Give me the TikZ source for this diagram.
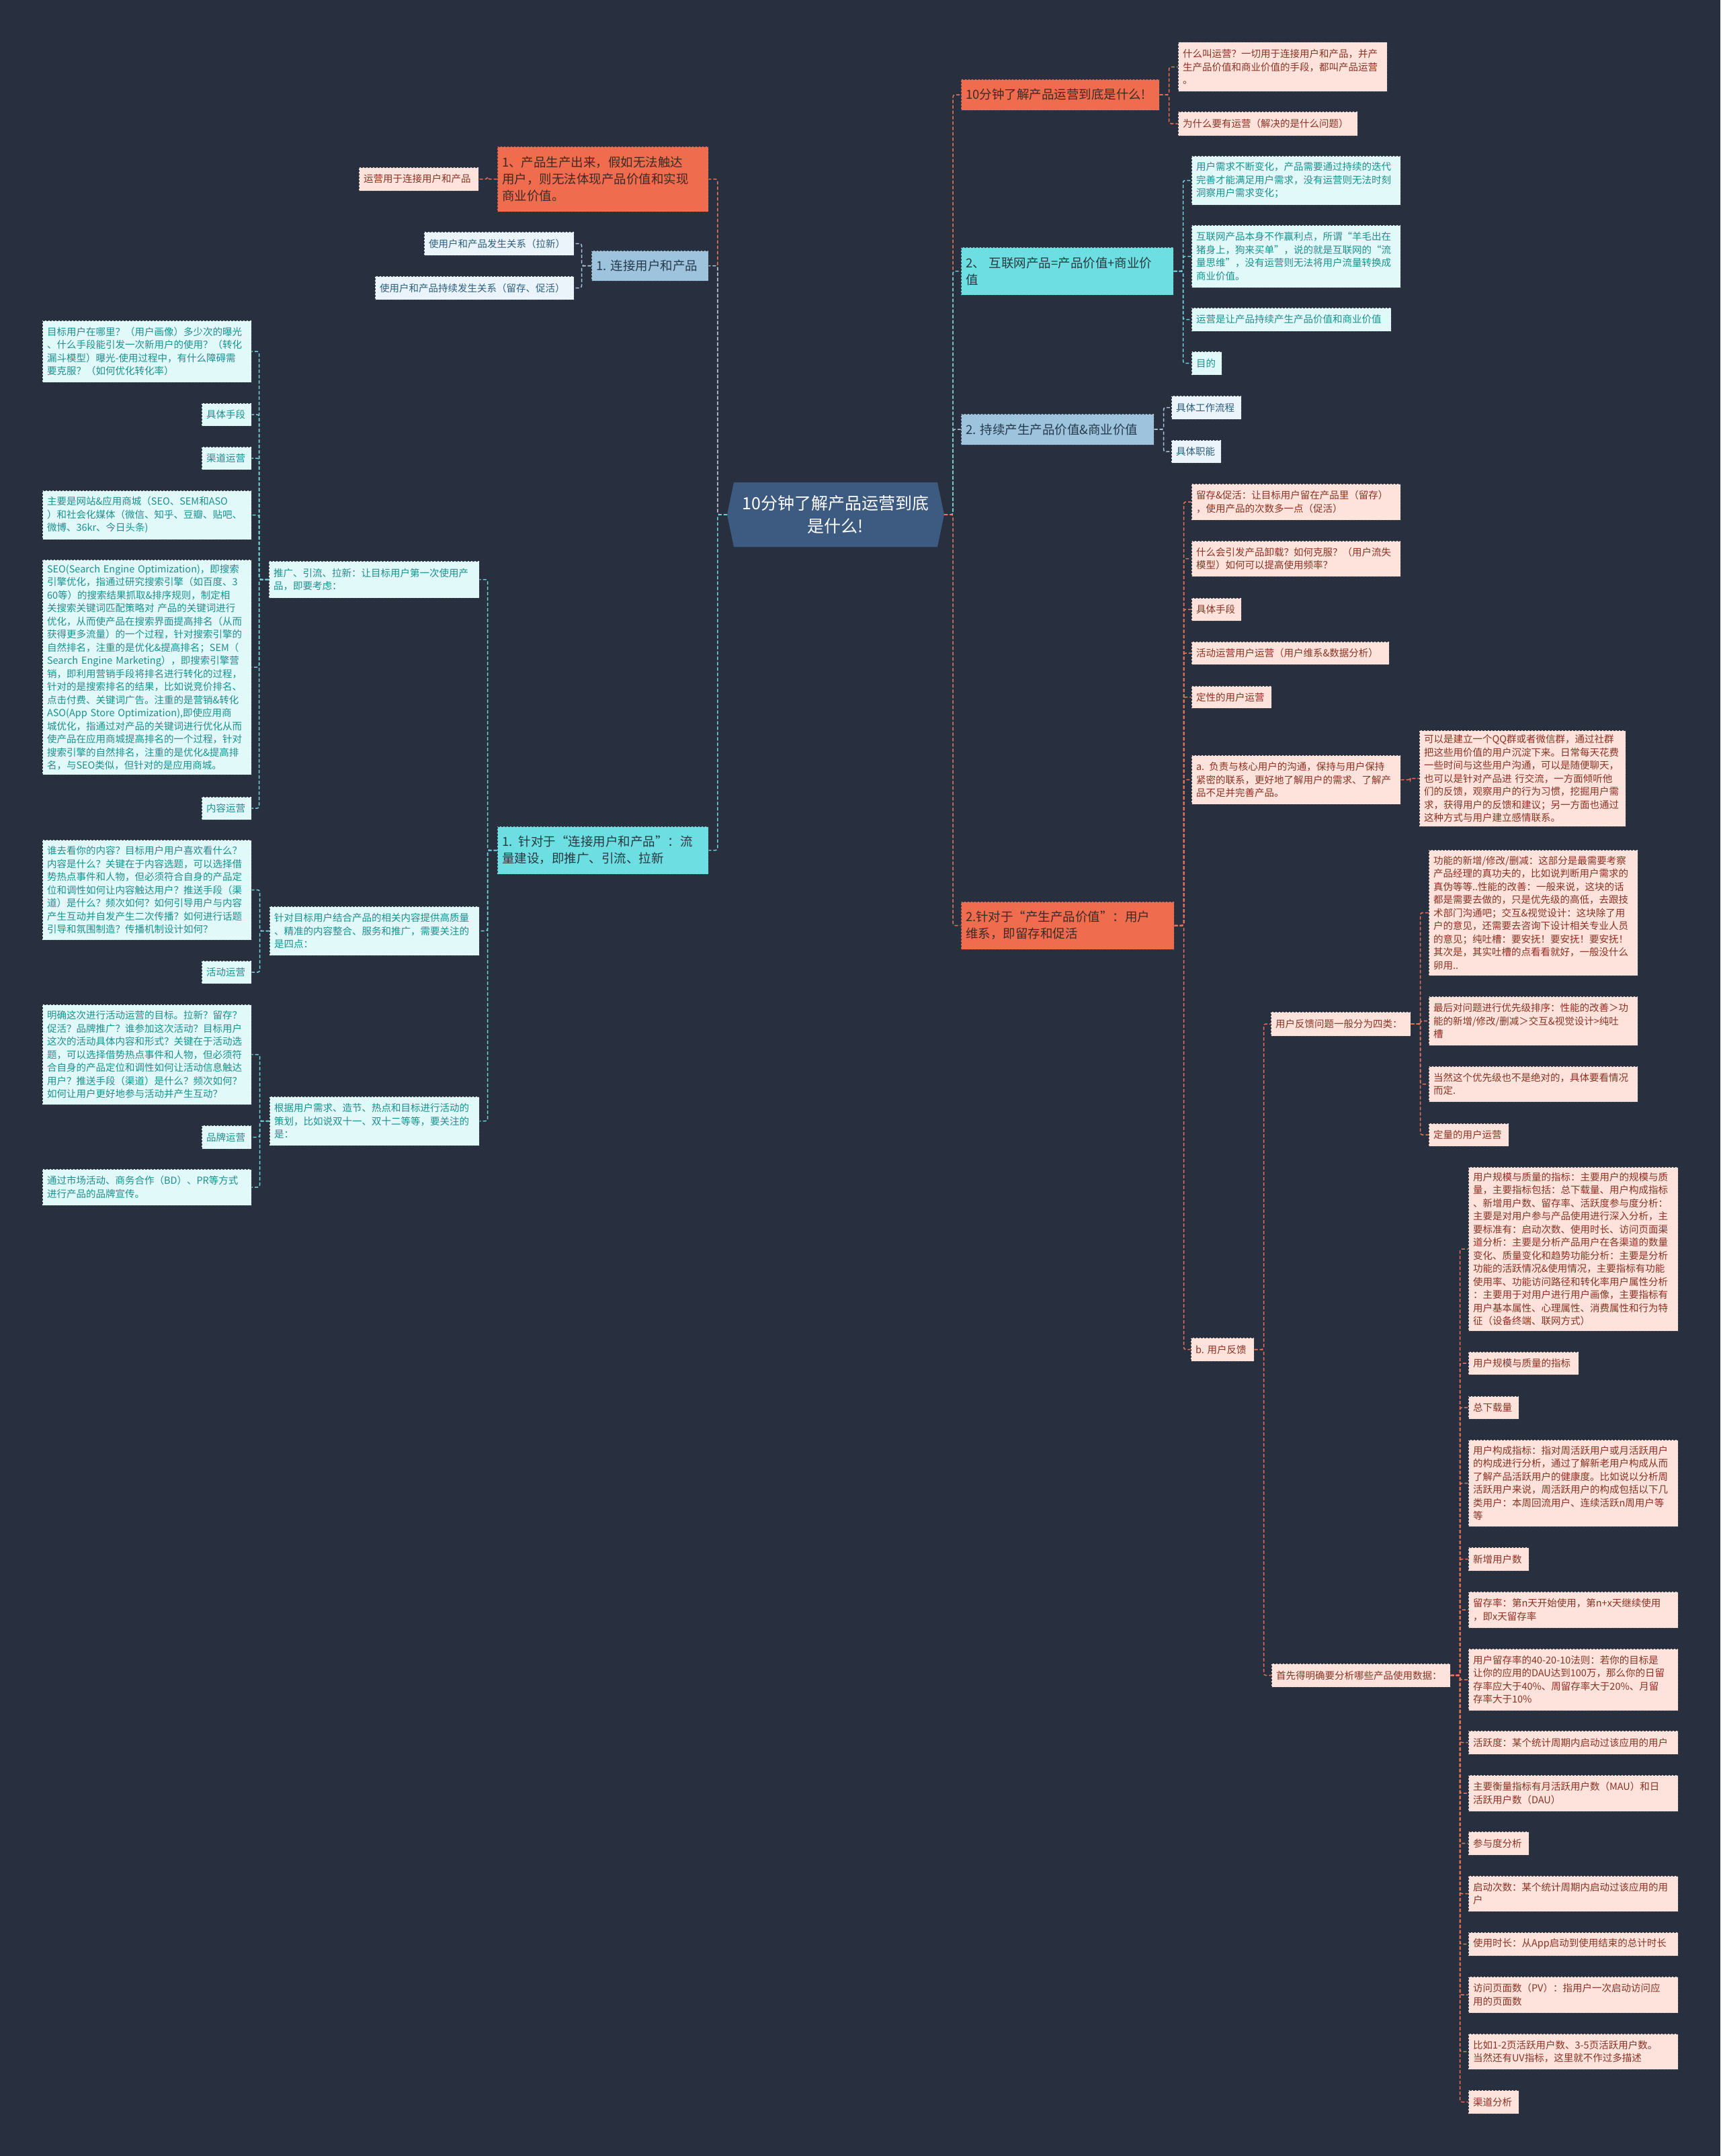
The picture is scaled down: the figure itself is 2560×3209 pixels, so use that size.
\documentclass[tikz,border=0pt]{standalone}
\usepackage{fontspec}
\setmainfont{Noto Sans CJK SC}
\definecolor{bg}{HTML}{282F3E}
\definecolor{orB}{HTML}{EF6C4F}
\definecolor{tlB}{HTML}{6DDFE3}
\definecolor{blB}{HTML}{9DC3DD}
\definecolor{ctrB}{HTML}{3D5A80}
\definecolor{pkL}{HTML}{FDE3DB}
\definecolor{cyL}{HTML}{E1F9F9}
\definecolor{buL}{HTML}{EBF4FA}
\definecolor{orT}{HTML}{3E2A25}
\definecolor{tlT}{HTML}{263A40}
\definecolor{blT}{HTML}{263A4D}
\definecolor{pkT}{HTML}{8A3324}
\definecolor{cyT}{HTML}{1D8F8F}
\definecolor{buT}{HTML}{2C5E7E}
\definecolor{lnO}{HTML}{E7735B}
\definecolor{lnT}{HTML}{6ED3DA}
\definecolor{lnB}{HTML}{A9C8DE}
\definecolor{bd}{HTML}{3A3F48}
\newcommand\leaffont{\fontsize{14.5}{19.5}\selectfont}
\newcommand\brfont{\fontsize{18.5}{25}\selectfont}
\newcommand\ctrfont{\fontsize{25}{33.5}\selectfont}
\newcommand\bx[7]{%
 \pgfmathsetmacro\bxw{#4-#2}\pgfmathsetmacro\bxh{#5-#3}%
 \pgfmathsetmacro\bxt{#4-#2-14}\pgfmathsetmacro\bxcx{(#2+#4)/2}\pgfmathsetmacro\bxcy{(#3+#5)/2}%
 \node[#6, minimum width=\bxw pt, minimum height=\bxh pt, text width=\bxt pt] (#1) at (\bxcx,\bxcy) {#7};}
\newcommand\cR[3]{\draw[#1] (#2.east) -- ++(14,0) |- (#3.west);}
\newcommand\cL[3]{\draw[#1] (#2.west) -- ++(-14,0) |- (#3.east);}
\tikzset{
 box/.style={rectangle, draw=bd, dash pattern=on 3pt off 2pt, line width=1pt, inner xsep=7pt, inner ysep=1pt, align=left},
 orangeB/.style={box, fill=orB, text=orT, font=\brfont},
 tealB/.style={box, fill=tlB, text=tlT, font=\brfont},
 blueB/.style={box, fill=blB, text=blT, font=\brfont},
 pinkL/.style={box, fill=pkL, text=pkT, font=\leaffont},
 cyanL/.style={box, fill=cyL, text=cyT, font=\leaffont},
 blueL/.style={box, fill=buL, text=buT, font=\leaffont},
 conn/.style={dash pattern=on 5pt off 3pt, line width=1.5pt, rounded corners=3pt},
 cO/.style={conn, draw=lnO},
 cT/.style={conn, draw=lnT},
 cB/.style={conn, draw=lnB}
}
\begin{document}
\begin{tikzpicture}[x=1pt,y=-1pt]
\fill[bg] (0,0) rectangle (2560,3209);
\useasboundingbox (0,0) rectangle (2560,3209);
% center
\fill[ctrB] (1082,766) -- (1092,718) -- (1395,718) -- (1405,766) -- (1395,814) -- (1092,814) -- cycle;
\node[minimum width=323pt, minimum height=96pt, inner sep=0pt, text=white, font=\ctrfont, align=center] (ctr) at (1243.5,766) {10分钟了解产品运营到底\\是什么!};
% ---------- right side
\bx{r1}{1430}{118}{1725}{164}{orangeB}{10分钟了解产品运营到底是什么!}
\bx{r1a}{1753}{63}{2064}{136}{pinkL}{什么叫运营？一切用于连接用户和产品，并产\\生产品价值和商业价值的手段，都叫产品运营\\。}
\bx{r1b}{1753}{166}{2020}{202}{pinkL}{为什么要有运营（解决的是什么问题）}
\bx{r2}{1430}{368}{1746}{439}{tealB}{2、 互联网产品=产品价值+商业价\\值}
\bx{r2a}{1773}{232}{2084}{305}{cyanL}{用户需求不断变化，产品需要通过持续的迭代\\完善才能满足用户需求，没有运营则无法时刻\\洞察用户需求变化；}
\bx{r2b}{1773}{335}{2084}{428}{cyanL}{互联网产品本身不作赢利点，所谓“羊毛出在\\猪身上，狗来买单”，说的就是互联网的“流\\量思维”，没有运营则无法将用户流量转换成\\商业价值。}
\bx{r2c}{1773}{458}{2070}{493}{cyanL}{运营是让产品持续产生产品价值和商业价值}
\bx{r2d}{1773}{523}{1818}{558}{cyanL}{目的}
\bx{r3}{1430}{616}{1717}{662}{blueB}{2.~持续产生产品价值\&商业价值}
\bx{r3a}{1743}{589}{1847}{624}{blueL}{具体工作流程}
\bx{r3b}{1743}{655}{1817}{689}{blueL}{具体职能}
\bx{r4}{1430}{1342}{1747}{1413}{orangeB}{2.针对于“产生产品价值”：用户\\维系，即留存和促活}
\bx{r4a}{1773}{720}{2084}{774}{pinkL}{留存\&促活：让目标用户留在产品里（留存）\\，使用产品的次数多一点（促活）}
\bx{r4b}{1773}{805}{2084}{858}{pinkL}{什么会引发产品卸载？如何克服？（用户流失\\模型）如何可以提高使用频率？}
\bx{r4c}{1773}{890}{1847}{924}{pinkL}{具体手段}
\bx{r4d}{1773}{955}{2067}{989}{pinkL}{活动运营用户运营（用户维系\&数据分析）}
\bx{r4e}{1773}{1021}{1892}{1054}{pinkL}{定性的用户运营}
\bx{r4f}{1773}{1124}{2084}{1197}{pinkL}{a. 负责与核心用户的沟通，保持与用户保持\\紧密的联系，更好地了解用户的需求、了解产\\品不足并完善产品。}
\bx{r4f1}{2112}{1087}{2419}{1230}{pinkL}{可以是建立一个QQ群或者微信群，通过社群\\把这些用价值的用户沉淀下来。日常每天花费\\一些时间与这些用户沟通，可以是随便聊天，\\也可以是针对产品进 行交流，一方面倾听他\\们的反馈，观察用户的行为习惯，挖掘用户需\\求，获得用户的反馈和建议；另一方面也通过\\这种方式与用户建立感情联系。}
\bx{r4g}{1772}{1991}{1866}{2026}{pinkL}{b.~用户反馈}
\bx{g1}{1891}{1506}{2099}{1542}{pinkL}{用户反馈问题一般分为四类：}
\bx{g1a}{2126}{1265}{2437}{1452}{pinkL}{功能的新增/修改/删减：这部分是最需要考察\\产品经理的真功夫的，比如说判断用户需求的\\真伪等等..性能的改善：一般来说，这块的话\\都是需要去做的，只是优先级的高低，去跟技\\术部门沟通吧；交互\&视觉设计：这块除了用\\户的意见，还需要去咨询下设计相关专业人员\\的意见；纯吐槽：要安抚！要安抚！要安抚！\\其次是，其实吐槽的点看看就好，一般没什么\\卵用..}
\bx{g1b}{2126}{1483}{2437}{1556}{pinkL}{最后对问题进行优先级排序：性能的改善＞功\\能的新增/修改/删减＞交互\&视觉设计>纯吐\\槽}
\bx{g1c}{2126}{1587}{2437}{1640}{pinkL}{当然这个优先级也不是绝对的，具体要看情况\\而定.}
\bx{g1d}{2126}{1672}{2245}{1706}{pinkL}{定量的用户运营}
\bx{g2}{1892}{2476}{2158}{2511}{pinkL}{首先得明确要分析哪些产品使用数据：}
\bx{g2a}{2185}{1737}{2497}{1981}{pinkL}{用户规模与质量的指标：主要用户的规模与质\\量，主要指标包括：总下载量、用户构成指标\\、新增用户数、留存率、活跃度参与度分析：\\主要是对用户参与产品使用进行深入分析，主\\要标准有：启动次数、使用时长、访问页面渠\\道分析：主要是分析产品用户在各渠道的数量\\变化、质量变化和趋势功能分析：主要是分析\\功能的活跃情况\&使用情况，主要指标有功能\\使用率、功能访问路径和转化率用户属性分析\\：主要用于对用户进行用户画像，主要指标有\\用户基本属性、心理属性、消费属性和行为特\\征（设备终端、联网方式）}
\bx{g2b}{2185}{2012}{2349}{2046}{pinkL}{用户规模与质量的指标}
\bx{g2c}{2185}{2078}{2260}{2112}{pinkL}{总下载量}
\bx{g2d}{2185}{2143}{2497}{2272}{pinkL}{用户构成指标：指对周活跃用户或月活跃用户\\的构成进行分析，通过了解新老用户构成从而\\了解产品活跃用户的健康度。比如说以分析周\\活跃用户来说，周活跃用户的构成包括以下几\\类用户：本周回流用户、连续活跃n周用户等\\等}
\bx{g2e}{2185}{2303}{2275}{2338}{pinkL}{新增用户数}
\bx{g2f}{2185}{2369}{2497}{2423}{pinkL}{留存率：第n天开始使用，第n+x天继续使用\\，即x天留存率}
\bx{g2g}{2185}{2454}{2497}{2546}{pinkL}{用户留存率的40-20-10法则：若你的目标是\\让你的应用的DAU达到100万，那么你的日留\\存率应大于40\%、周留存率大于20\%、月留\\存率大于10\%}
\bx{g2h}{2185}{2576}{2497}{2611}{pinkL}{活跃度：某个统计周期内启动过该应用的用户}
\bx{g2i}{2185}{2642}{2497}{2696}{pinkL}{主要衡量指标有月活跃用户数（MAU）和日\\活跃用户数（DAU）}
\bx{g2j}{2185}{2726}{2275}{2761}{pinkL}{参与度分析}
\bx{g2k}{2185}{2792}{2497}{2845}{pinkL}{启动次数：某个统计周期内启动过该应用的用\\户}
\bx{g2l}{2185}{2876}{2497}{2911}{pinkL}{使用时长：从App启动到使用结束的总计时长}
\bx{g2m}{2185}{2942}{2497}{2996}{pinkL}{访问页面数（PV）：指用户一次启动访问应\\用的页面数}
\bx{g2n}{2185}{3027}{2497}{3080}{pinkL}{比如1-2页活跃用户数、3-5页活跃用户数。\\当然还有UV指标，这里就不作过多描述}
\bx{g2o}{2185}{3111}{2260}{3146}{pinkL}{渠道分析}
% ---------- left side
\bx{l1}{740}{218}{1054}{315}{orangeB}{1、产品生产出来，假如无法触达\\用户，则无法体现产品价值和实现\\商业价值。}
\bx{l1a}{534}{249}{712}{284}{pinkL}{运营用于连接用户和产品}
\bx{l2}{880}{373}{1054}{418}{blueB}{1.~连接用户和产品}
\bx{l2a}{631}{345}{854}{380}{blueL}{使用户和产品发生关系（拉新）}
\bx{l2b}{558}{411}{854}{446}{blueL}{使用户和产品持续发生关系（留存、促活）}
\bx{l3}{740}{1230}{1054}{1301}{tealB}{1. 针对于“连接用户和产品”：流\\量建设，即推广、引流、拉新}
\bx{p1}{400}{835}{713}{890}{cyanL}{推广、引流、拉新：让目标用户第一次使用产\\品，即要考虑：}
\bx{p1a}{63}{477}{374}{569}{cyanL}{目标用户在哪里？（用户画像）多少次的曝光\\、什么手段能引发一次新用户的使用？（转化\\漏斗模型）曝光-使用过程中，有什么障碍需\\要克服？（如何优化转化率）}
\bx{p1b}{300}{600}{374}{634}{cyanL}{具体手段}
\bx{p1c}{300}{665}{374}{699}{cyanL}{渠道运营}
\bx{p1d}{63}{730}{374}{803}{cyanL}{主要是网站\&应用商城（SEO、SEM和ASO\\）和社会化媒体（微信、知乎、豆瓣、贴吧、\\微博、36kr、今日头条)}
\bx{p1e}{63}{833}{374}{1153}{cyanL}{SEO(Search Engine Optimization)，即搜索\\引擎优化，指通过研究搜索引擎（如百度、3\\60等）的搜索结果抓取\&排序规则，制定相\\关搜索关键词匹配策略对 产品的关键词进行\\优化，从而使产品在搜索界面提高排名（从而\\获得更多流量）的一个过程，针对搜索引擎的\\自然排名，注重的是优化\&提高排名；SEM（\\Search Engine Marketing），即搜索引擎营\\销，即利用营销手段将排名进行转化的过程，\\针对的是搜索排名的结果，比如说竞价排名、\\点击付费、关键词广告。注重的是营销\&转化\\ASO(App Store Optimization),即使应用商\\城优化，指通过对产品的关键词进行优化从而\\使产品在应用商城提高排名的一个过程，针对\\搜索引擎的自然排名，注重的是优化\&提高排\\名，与SEO类似，但针对的是应用商城。}
\bx{p1f}{300}{1186}{374}{1220}{cyanL}{内容运营}
\bx{p2}{401}{1349}{713}{1422}{cyanL}{针对目标用户结合产品的相关内容提供高质量\\、精准的内容整合、服务和推广，需要关注的\\是四点：}
\bx{p2a}{63}{1250}{374}{1399}{cyanL}{谁去看你的内容？目标用户用户喜欢看什么？\\内容是什么？关键在于内容选题，可以选择借\\势热点事件和人物，但必须符合自身的产品定\\位和调性如何让内容触达用户？推送手段（渠\\道）是什么？频次如何？如何引导用户与内容\\产生互动并自发产生二次传播？如何进行话题\\引导和氛围制造？传播机制设计如何？}
\bx{p2b}{300}{1430}{374}{1464}{cyanL}{活动运营}
\bx{p3}{401}{1632}{713}{1705}{cyanL}{根据用户需求、造节、热点和目标进行活动的\\策划，比如说双十一、双十二等等，要关注的\\是：}
\bx{p3a}{63}{1495}{374}{1644}{cyanL}{明确这次进行活动运营的目标。拉新？留存？\\促活？品牌推广？谁参加这次活动？目标用户\\这次的活动具体内容和形式？关键在于活动选\\题，可以选择借势热点事件和人物，但必须符\\合自身的产品定位和调性如何让活动信息触达\\用户？推送手段（渠道）是什么？频次如何？\\如何让用户更好地参与活动并产生互动？}
\bx{p3b}{300}{1675}{374}{1710}{cyanL}{品牌运营}
\bx{p3c}{63}{1740}{374}{1794}{cyanL}{通过市场活动、商务合作（BD）、PR等方式\\进行产品的品牌宣传。}
% ---------- connectors: center
\draw[cO] (ctr.east) -- ++(13,0) |- (r1.west);
\draw[cB] (ctr.east) -- ++(13,0) |- (r3.west);
\draw[cT] (ctr.east) -- ++(13,0) |- (r2.west);
\draw[cO] (ctr.east) -- ++(13,0) |- (r4.west);
\draw[cO] (ctr.west) -- ++(-14,0) |- (l1.east);
\draw[cB] (ctr.west) -- ++(-14,0) |- (l2.east);
\draw[cT] (ctr.west) -- ++(-14,0) |- (l3.east);
% right children
\cR{cO}{r1}{r1a}\cR{cO}{r1}{r1b}
\cR{cT}{r2}{r2a}\cR{cT}{r2}{r2b}\cR{cT}{r2}{r2c}\cR{cT}{r2}{r2d}
\cR{cB}{r3}{r3a}\cR{cB}{r3}{r3b}
\cR{cO}{r4}{r4a}\cR{cO}{r4}{r4b}\cR{cO}{r4}{r4c}\cR{cO}{r4}{r4d}\cR{cO}{r4}{r4e}\cR{cO}{r4}{r4f}\cR{cO}{r4}{r4g}
\cR{cO}{r4f}{r4f1}
\cR{cO}{r4g}{g1}\cR{cO}{r4g}{g2}
\cR{cO}{g1}{g1a}\cR{cO}{g1}{g1b}\cR{cO}{g1}{g1c}\cR{cO}{g1}{g1d}
\cR{cO}{g2}{g2a}\cR{cO}{g2}{g2b}\cR{cO}{g2}{g2c}\cR{cO}{g2}{g2d}\cR{cO}{g2}{g2e}
\cR{cO}{g2}{g2f}\cR{cO}{g2}{g2g}\cR{cO}{g2}{g2h}\cR{cO}{g2}{g2i}\cR{cO}{g2}{g2j}
\cR{cO}{g2}{g2k}\cR{cO}{g2}{g2l}\cR{cO}{g2}{g2m}\cR{cO}{g2}{g2n}\cR{cO}{g2}{g2o}
% left children
\cL{cO}{l1}{l1a}
\cL{cB}{l2}{l2a}\cL{cB}{l2}{l2b}
\cL{cT}{l3}{p1}\cL{cT}{l3}{p2}\cL{cT}{l3}{p3}
\cL{cT}{p1}{p1a}\cL{cT}{p1}{p1b}\cL{cT}{p1}{p1c}\cL{cT}{p1}{p1d}\cL{cT}{p1}{p1e}\cL{cT}{p1}{p1f}
\cL{cT}{p2}{p2a}\cL{cT}{p2}{p2b}
\cL{cT}{p3}{p3a}\cL{cT}{p3}{p3b}\cL{cT}{p3}{p3c}
\end{tikzpicture}
\end{document}
